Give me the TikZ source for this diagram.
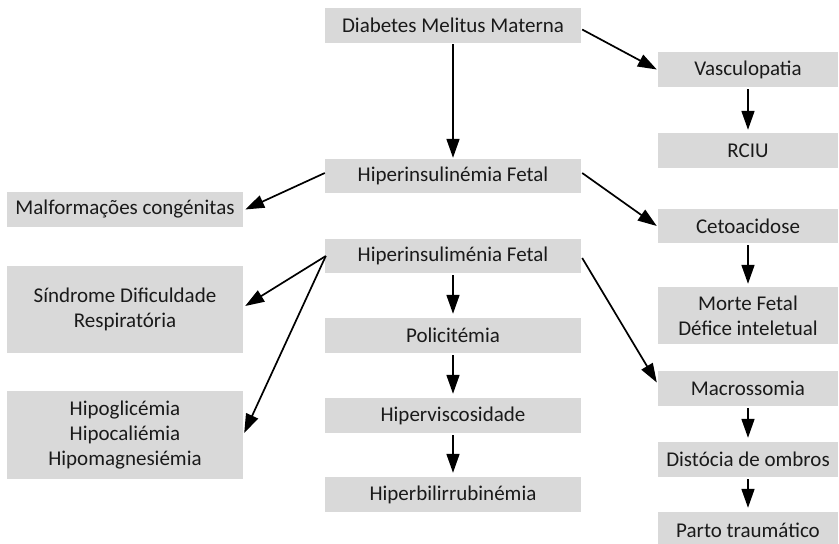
\documentclass[tikz,border=0pt]{standalone}
\usepackage{fontspec}
\setmainfont{Carlito}
\usetikzlibrary{arrows.meta,calc}
\definecolor{boxgray}{RGB}{217,217,217}
\definecolor{txt}{RGB}{26,26,26}
\tikzset{
  box/.style={fill=boxgray, draw=none, inner sep=0pt, align=center, text=txt,
    font=\fontsize{21}{25}\selectfont},
  cbox/.style={box, minimum width=256pt, minimum height=35pt},
  lbox/.style={box, minimum width=236pt},
  rbox/.style={box, minimum width=180pt, minimum height=35pt},
  arr/.style={line width=1.7pt, -{Triangle[length=19pt,width=13pt]}}
}
\begin{document}
\begin{tikzpicture}[x=1pt,y=-1pt]
\clip (0,0) rectangle (839,544);
\fill[white] (0,0) rectangle (839,544);
% centre column
\node[cbox] (dmm) at (453,25.5) {Diabetes Melitus Materna};
\node[cbox, minimum height=34pt] (hf1) at (453,176) {Hiperinsulinémia Fetal};
\node[cbox, minimum height=34pt] (hf2) at (453,256) {Hiperinsuliménia Fetal};
\node[cbox] (poli) at (453,335.5) {Policitémia};
\node[cbox] (hvis) at (453,415.5) {Hiperviscosidade};
\node[cbox] (hbil) at (453,494.5) {Hiperbilirrubinémia};
% left column
\node[lbox, minimum height=35pt] (malf) at (125,209.5) {Malformações congénitas};
\node[lbox, minimum height=87pt] (sind) at (125,309.5) {Síndrome Dificuldade\\Respiratória};
\node[lbox, minimum height=88pt] (hipo) at (125,435) {Hipoglicémia\\Hipocaliémia\\Hipomagnesiémia};
% right column
\node[rbox] (vasc) at (748,69.5) {Vasculopatia};
\node[rbox] (rciu) at (748,150.5) {RCIU};
\node[rbox, minimum height=34pt] (ceto) at (748,226) {Cetoacidose};
\node[rbox, minimum height=57pt] (morte) at (748,315.5) {Morte Fetal\\Défice inteletual};
\node[rbox] (macro) at (748,388.5) {Macrossomia};
\node[rbox] (dist) at (748,459.5) {Distócia de ombros};
\node[rbox, minimum height=36pt, text depth=0pt] (parto) at (748,530) {Parto traumático};
% connectors
\draw[arr] ($(dmm.south)+(0,1)$) -- ($(hf1.north)+(0,-1)$);
\draw[arr] ($(dmm.east)+(1,4)$) -- ($(vasc.west)+(-1,0)$);
\draw[arr] ($(vasc.south)+(0,2)$) -- ($(rciu.north)+(0,-3)$);
\draw[arr] ($(hf1.west)+(0,-3)$) -- ($(malf.east)+(2,0)$);
\draw[arr] ($(hf1.east)+(1,-3)$) -- ($(ceto.west)+(-1,0)$);
\draw[arr] ($(ceto.south)+(0,2)$) -- ($(morte.north)+(0,-3)$);
\coordinate (hf2l) at ($(hf2.west)+(1,0)$);
\draw[arr] (hf2l) -- ($(sind.east)+(2,-3.5)$);
\draw[arr] (hf2l) -- ($(hipo.east)+(1,-2)$);
\draw[arr] ($(hf2.south)+(0,2)$) -- ($(poli.north)+(0,-4)$);
\draw[arr] ($(poli.south)+(0,2)$) -- ($(hvis.north)+(0,-4)$);
\draw[arr] ($(hvis.south)+(0,2)$) -- ($(hbil.north)+(0,-4)$);
\draw[arr] ($(hf2.east)+(1,2)$) -- ($(macro.west)+(-1,-6)$);
\draw[arr] ($(macro.south)+(0,2)$) -- ($(dist.north)+(0,-4)$);
\draw[arr] ($(dist.south)+(0,2)$) -- ($(parto.north)+(0,-4)$);
\end{tikzpicture}
\end{document}
